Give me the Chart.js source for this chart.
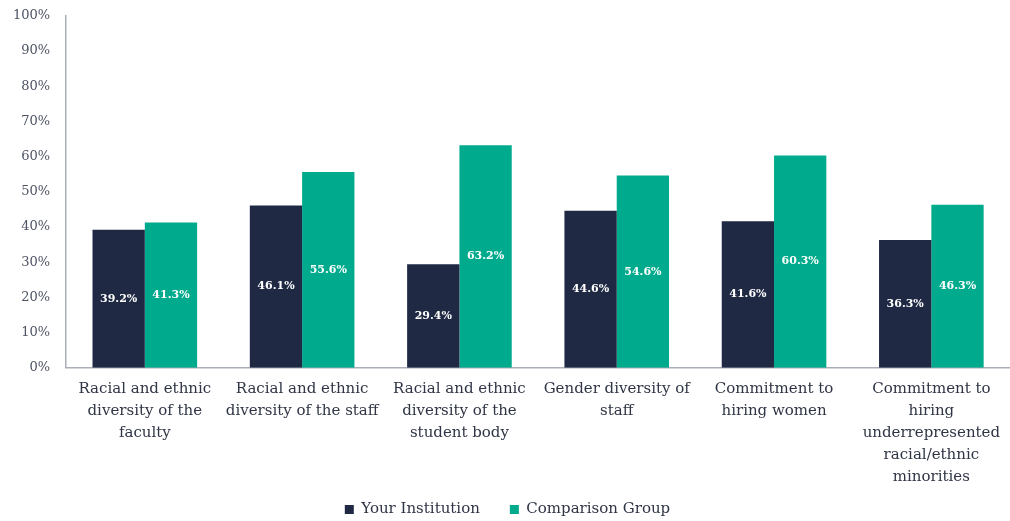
<!DOCTYPE html>
<html>
<head>
<meta charset="utf-8">
<script src="https://cdn.jsdelivr.net/npm/chart.js@4/dist/chart.umd.min.js"></script>
<style>
  html, body { margin: 0; padding: 0; background: #fff; }
  #wrap { width: 1010px; height: 521px; }
</style>
</head>
<body>
<div id="wrap"><canvas id="diversityChart"></canvas></div>
<script>
const categories = [
  ['Racial and ethnic', 'diversity of the', 'faculty'],
  ['Racial and ethnic', 'diversity of the staff'],
  ['Racial and ethnic', 'diversity of the', 'student body'],
  ['Gender diversity of', 'staff'],
  ['Commitment to', 'hiring women'],
  ['Commitment to', 'hiring', 'underrepresented', 'racial/ethnic', 'minorities']
];
const yourInstitution = [39.2, 46.1, 29.4, 44.6, 41.6, 36.3];
const comparisonGroup = [41.3, 55.6, 63.2, 54.6, 60.3, 46.3];

const navy = '#1f2944';
const teal = '#00aa8c';
const textColor = '#2f3545';
const serif = "'DejaVu Serif', 'Liberation Serif', serif";

// writes each value in the middle of its bar
const barLabels = {
  id: 'barLabels',
  afterDatasetsDraw(chart) {
    const ctx = chart.ctx;
    ctx.save();
    ctx.font = 'bold 11px ' + serif;
    ctx.fillStyle = '#ffffff';
    ctx.textAlign = 'center';
    ctx.textBaseline = 'middle';
    chart.data.datasets.forEach((ds, i) => {
      chart.getDatasetMeta(i).data.forEach((bar, j) => {
        const mid = (bar.y + bar.base) / 2;
        ctx.fillText(ds.data[j].toFixed(1) + '%', bar.x, mid);
      });
    });
    ctx.restore();
  }
};

// the x axis is fitted shorter than its labels, so widen its
// label clip area back to the canvas bottom before drawing
const uncropLabels = {
  id: 'uncropLabels',
  beforeDraw(chart) {
    chart.scales.x.bottom = chart.height;
  }
};

new Chart(document.getElementById('diversityChart'), {
  type: 'bar',
  data: {
    labels: categories,
    datasets: [
      { label: 'Your Institution', data: yourInstitution, backgroundColor: navy },
      { label: 'Comparison Group', data: comparisonGroup, backgroundColor: teal }
    ]
  },
  options: {
    responsive: true,
    maintainAspectRatio: false,
    animation: false,
    categoryPercentage: 0.665,
    barPercentage: 1,
    layout: { padding: { top: 0, right: 0, left: 5, bottom: -6 } },
    scales: {
      x: {
        grid: { display: false },
        border: { display: true, color: '#a9aeb8', width: 1.5 },
        ticks: {
          color: textColor,
          font: { family: serif, size: 15, lineHeight: 1.47 },
          maxRotation: 0,
          autoSkip: false,
          padding: 2
        },
        afterFit(scale) { scale.height -= 18; }
      },
      y: {
        min: 0,
        max: 100,
        grid: { display: false },
        border: { display: true, color: '#a9aeb8', width: 1.5 },
        ticks: {
          stepSize: 10,
          color: '#4d5363',
          font: { family: serif, size: 13 },
          padding: 8,
          callback: v => v + '%'
        }
      }
    },
    plugins: {
      legend: {
        position: 'bottom',
        labels: {
          color: textColor,
          font: { family: serif, size: 15 },
          boxWidth: 9,
          boxHeight: 9,
          padding: 30
        }
      },
      tooltip: { enabled: false }
    }
  },
  plugins: [barLabels, uncropLabels]
});
</script>
</body>
</html>
